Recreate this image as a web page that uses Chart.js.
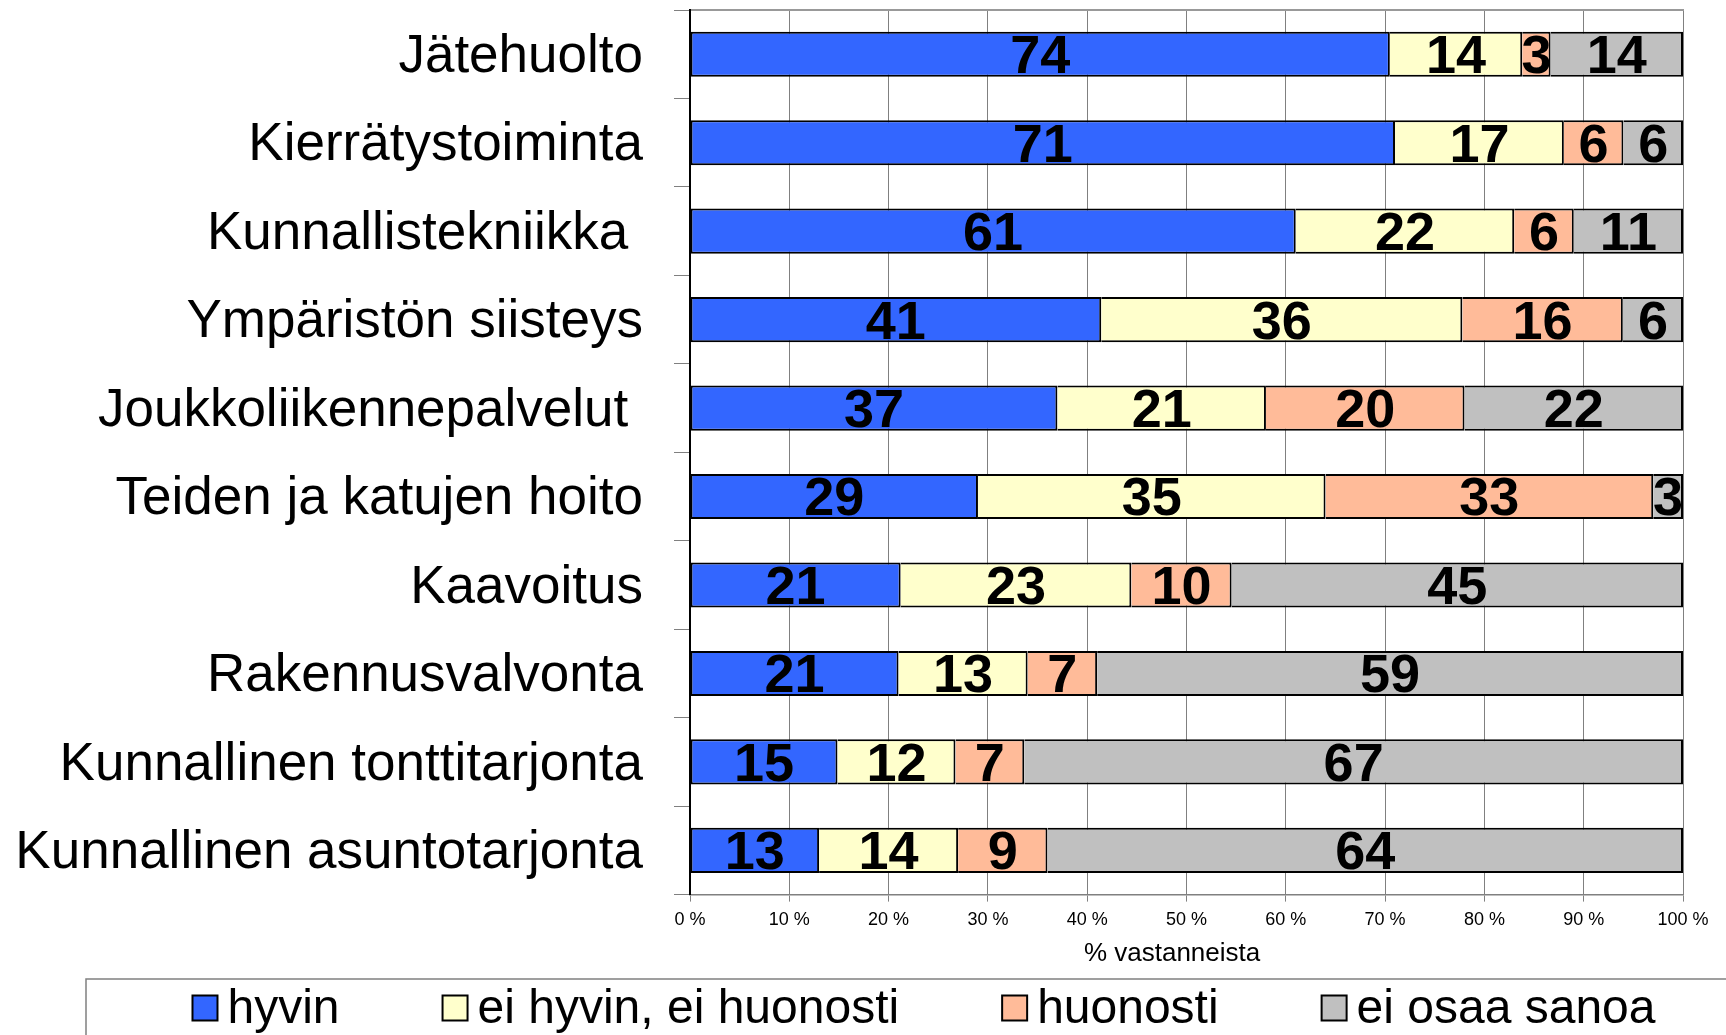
<!DOCTYPE html>
<html>
<head>
<meta charset="utf-8">
<script src="https://cdn.jsdelivr.net/npm/chart.js@4/dist/chart.umd.min.js"></script>
<style>
  html, body { margin: 0; padding: 0; background: #fff; }
  #wrap { width: 1726px; height: 1035px; }
</style>
</head>
<body>
<div id="wrap"><canvas id="chart" width="1726" height="1035"></canvas></div>
<script>
// Palvelujen toimivuus, % vastanneista
const categories = ['Jätehuolto', 'Kierrätystoiminta', 'Kunnallistekniikka ', 'Ympäristön siisteys', 'Joukkoliikennepalvelut ',
    'Teiden ja katujen hoito', 'Kaavoitus', 'Rakennusvalvonta', 'Kunnallinen tonttitarjonta', 'Kunnallinen asuntotarjonta'];

const hyvin = [74, 71, 61, 41, 37, 29, 21, 21, 15, 13];
const eiHyvinEiHuonosti = [14, 17, 22, 36, 21, 35, 23, 13, 12, 14];
const huonosti = [3, 6, 6, 16, 20, 33, 10, 7, 7, 9];
const eiOsaaSanoa = [14, 6, 11, 6, 22, 3, 45, 59, 67, 64];

const seriesNames = ['hyvin', 'ei hyvin, ei huonosti', 'huonosti', 'ei osaa sanoa'];
const seriesColors = ['#3366FF', '#FFFFCC', '#FFBB99', '#C0C0C0'];
const xTicks = [0, 10, 20, 30, 40, 50, 60, 70, 80, 90, 100];

const FONT = '"Liberation Sans", Arial, sans-serif';

// 100 % pinottu: jokainen rivi skaalataan summaansa
const rowSums = categories.map((c, i) => hyvin[i] + eiHyvinEiHuonosti[i] + huonosti[i] + eiOsaaSanoa[i]);
const toPct = arr => arr.map((v, i) => v / rowSums[i] * 100);

const allSeries = [hyvin, eiHyvinEiHuonosti, huonosti, eiOsaaSanoa];

const datasets = allSeries.map((arr, k) => ({
    label: seriesNames[k],
    data: toPct(arr),
    values: arr,
    backgroundColor: seriesColors[k],
    borderColor: '#000',
    borderWidth: 2,
    borderSkipped: k === 0 ? false : 'start',
    categoryPercentage: 1,
    barPercentage: 0.51
}));

// arvot palkkien sisään
const valueLabels = {
    id: 'valueLabels',
    afterDatasetsDraw(chart) {
        const ctx = chart.ctx;
        ctx.save();
        ctx.font = 'bold 54px ' + FONT;
        ctx.fillStyle = '#000';
        ctx.textAlign = 'center';
        ctx.textBaseline = 'middle';
        chart.data.datasets.forEach((ds, i) => {
            chart.getDatasetMeta(i).data.forEach((bar, j) => {
                const p = bar.getCenterPoint();
                ctx.fillText(String(ds.values[j]), p.x, p.y + 4);
            });
        });
        ctx.restore();
    }
};

// selite laatikossa alhaalla
const boxLegend = {
    id: 'boxLegend',
    afterDraw(chart) {
        const ctx = chart.ctx;
        const boxLeft = 86, boxTop = 979, boxRight = 1762;
        ctx.save();
        ctx.strokeStyle = '#808080';
        ctx.lineWidth = 1.5;
        ctx.strokeRect(boxLeft, boxTop, boxRight - boxLeft, 120);
        ctx.font = '48px ' + FONT;
        ctx.textBaseline = 'middle';
        const sq = 25, gap = 10, spacing = 103;
        const widths = chart.data.datasets.map(ds => sq + gap + ctx.measureText(ds.label).width);
        const total = widths.reduce((a, b) => a + b, 0) + spacing * (widths.length - 1);
        let x = (boxLeft + boxRight) / 2 - total / 2;
        const cy = 1008;
        chart.data.datasets.forEach((ds, i) => {
            ctx.fillStyle = ds.backgroundColor;
            ctx.fillRect(x, cy - sq / 2, sq, sq);
            ctx.strokeStyle = '#000';
            ctx.lineWidth = 2;
            ctx.strokeRect(x, cy - sq / 2, sq, sq);
            ctx.fillStyle = '#000';
            ctx.fillText(ds.label, x + sq + gap, cy + 2);
            x += widths[i] + spacing;
        });
        ctx.restore();
    }
};

const ctx = document.getElementById('chart').getContext('2d');
const chart = new Chart(ctx, {
    type: 'bar',
    data: {
        labels: categories,
        datasets: datasets
    },
    options: {
        indexAxis: 'y',
        responsive: false,
        animation: false,
        layout: {
            padding: { left: 10, right: 43, top: 10, bottom: 71 }
        },
        scales: {
            x: {
                stacked: true,
                min: 0,
                max: 100,
                afterBuildTicks: axis => { axis.ticks = xTicks.map(v => ({ value: v })); },
                ticks: {
                    callback: v => v + ' %',
                    font: { family: FONT, size: 18 },
                    color: '#000',
                    padding: 8,
                    maxRotation: 0
                },
                grid: {
                    color: '#808080',
                    lineWidth: 1,
                    tickLength: 7
                },
                border: { color: '#808080', width: 1.5 },
                title: {
                    display: true,
                    text: '% vastanneista    ',
                    font: { family: FONT, size: 26, lineHeight: 0.8 },
                    color: '#000',
                    padding: { top: 4, bottom: 0 }
                }
            },
            x2: {
                position: 'top',
                min: 0,
                max: 100,
                ticks: { display: false },
                grid: { display: false, drawTicks: false },
                border: { display: true, color: '#999', width: 2 }
            },
            y: {
                stacked: true,
                afterFit: scale => {
                    scale.width = 680;
                    scale.paddingTop = 0;
                    scale.paddingBottom = 0;
                },
                ticks: {
                    font: { family: FONT, size: 53 },
                    color: '#000',
                    padding: 31,
                    labelOffset: 3
                },
                grid: {
                    offset: true,
                    drawOnChartArea: false,
                    drawTicks: true,
                    tickLength: 16,
                    color: '#808080'
                },
                border: { color: '#000', width: 2 }
            }
        },
        plugins: {
            legend: { display: false },
            tooltip: { enabled: false }
        }
    },
    plugins: [valueLabels, boxLegend]
});
</script>
</body>
</html>
